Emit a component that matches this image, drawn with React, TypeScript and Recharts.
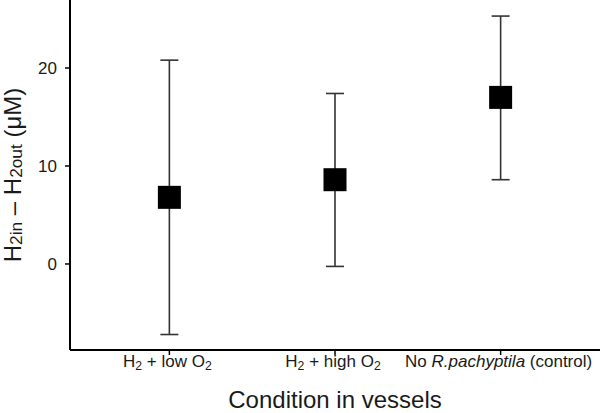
import {
  ErrorBar,
  Label,
  Scatter,
  ScatterChart,
  XAxis,
  YAxis,
} from 'recharts';

type Segment = { text: string; sub?: boolean; italic?: boolean };

// category positions and tick labels (segments for subscripts / italics)
const positions = [1, 2, 3];
const categoryLabels: Segment[][] = [
  [{ text: 'H' }, { text: '2', sub: true }, { text: ' + low O' }, { text: '2', sub: true }],
  [{ text: 'H' }, { text: '2', sub: true }, { text: ' + high O' }, { text: '2', sub: true }],
  [{ text: 'No ' }, { text: 'R.pachyptila', italic: true }, { text: ' (control)' }],
];

// mean and error limits (µM)
const means = [6.8, 8.6, 17.0];
const upper = [20.8, 17.4, 25.3];
const lower = [-7.2, -0.25, 8.6];

const yTicks = [0, 10, 20];

const FONT = '"Liberation Sans", Arial, Helvetica, sans-serif';
const INK = '#1a1a1a';

const data = positions.map((x, i) => ({
  x,
  y: means[i],
  err: [means[i] - lower[i], upper[i] - means[i]],
}));

function SegmentText({ segments, fontSize }: { segments: Segment[]; fontSize: number }) {
  return (
    <>
      {segments.map((seg, i) => {
        if (seg.sub) {
          return (
            <tspan key={i} fontSize={fontSize * 0.72} baselineShift="-25%">
              {seg.text}
            </tspan>
          );
        }
        return (
          <tspan key={i} fontStyle={seg.italic ? 'italic' : 'normal'} fontSize={fontSize}>
            {seg.text}
          </tspan>
        );
      })}
    </>
  );
}

function XTick(props: any) {
  const { x, y, payload } = props;
  const idx = positions.indexOf(payload.value);
  if (idx < 0) return null;
  return (
    <text
      x={x - 2}
      y={y}
      dy="0.71em"
      textAnchor="middle"
      fontFamily={FONT}
      fontSize={17}
      fill={INK}
    >
      <SegmentText segments={categoryLabels[idx]} fontSize={17} />
    </text>
  );
}

function YTitle(props: any) {
  const { viewBox } = props;
  const cx = 12;
  const cy = viewBox.y + viewBox.height / 2;
  const segs: Segment[] = [
    { text: 'H' },
    { text: '2in', sub: true },
    { text: ' \u2013 H' },
    { text: '2out', sub: true },
    { text: ' (\u03bcM)' },
  ];
  return (
    <text
      x={cx}
      y={cy}
      transform={`rotate(-90 ${cx} ${cy})`}
      textAnchor="middle"
      dominantBaseline="central"
      fontFamily={FONT}
      fontSize={24}
      fill={INK}
    >
      <SegmentText segments={segs} fontSize={24} />
    </text>
  );
}

function SquareMarker(props: any) {
  const { cx, cy } = props;
  const s = 23;
  return <rect x={cx - s / 2} y={cy - s / 2} width={s} height={s} fill="#000" />;
}

export default function App() {
  return (
    <div style={{ position: 'absolute', left: 0, top: 0, width: 600, height: 413, background: '#fff' }}>
      <ScatterChart width={600} height={413} margin={{ top: 0, right: 0, bottom: 0, left: 0 }}>
        <XAxis
          type="number"
          dataKey="x"
          domain={[0.4, 3.6]}
          ticks={positions}
          allowDataOverflow
          height={63}
          stroke="#000"
          axisLine={{ stroke: '#000', strokeWidth: 2 }}
          tickLine={{ stroke: '#000', strokeWidth: 1.5 }}
          tickSize={5}
          tickMargin={0}
          tick={<XTick />}
        >
          <Label
            value="Condition in vessels"
            position="insideBottom"
            offset={5}
            fontFamily={FONT}
            fontSize={24}
            fill={INK}
          />
        </XAxis>
        <YAxis
          type="number"
          dataKey="y"
          domain={[-8.78, 26.94]}
          ticks={yTicks}
          allowDataOverflow
          width={70}
          axisLine={{ stroke: '#000', strokeWidth: 2 }}
          tickLine={{ stroke: '#000', strokeWidth: 1.5 }}
          tickSize={5}
          tickMargin={8}
          tick={{ fontFamily: FONT, fontSize: 17, fill: INK }}
          label={<YTitle />}
        />
        <Scatter data={data} shape={<SquareMarker />} isAnimationActive={false}>
          <ErrorBar
            dataKey="err"
            direction="y"
            width={9}
            stroke="#333"
            strokeWidth={1.6}
            isAnimationActive={false}
          />
        </Scatter>
      </ScatterChart>
    </div>
  );
}
